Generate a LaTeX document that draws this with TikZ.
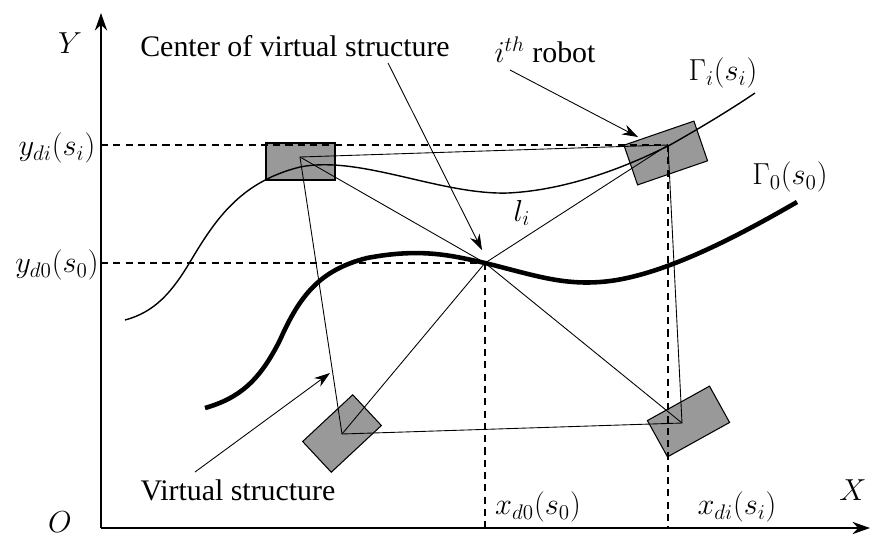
\documentclass[tikz,border=0pt]{standalone}
\usepackage{fontspec}
\setmainfont{Liberation Serif}
\usetikzlibrary{positioning, arrows.meta}

\tikzset{
  robot/.style={draw=black, fill=gray!80, inner sep=0pt, line width=0.6pt},
  vsline/.style={line width=0.5pt},
  guide/.style={line width=0.6pt, dash pattern=on 4pt off 3pt},
  pointer/.style={-{Stealth[length=9pt, width=6pt]}, line width=0.5pt},
  axis/.style={-{Stealth[length=10pt, width=7pt]}, line width=0.8pt},
}

\begin{document}
\begin{tikzpicture}[x=0.02cm, y=-0.02cm, font=\fontsize{17}{20}\selectfont]
  \useasboundingbox (0,0) rectangle (873,539);

  % robots
  \node[robot, minimum width=1.38cm, minimum height=0.74cm] (r1) at (300.5,161.5) {};
  \node[robot, minimum width=1.48cm, minimum height=0.84cm, rotate=19] (ri) at (665.75,153) {};
  \node[robot, minimum width=1.37cm, minimum height=0.84cm, rotate=43] (r3) at (342,433.5) {};
  \node[robot, minimum width=1.42cm, minimum height=0.83cm, rotate=29] (r4) at (688.5,421.5) {};

  % reference points of the virtual structure
  \coordinate (o) at (101,528);
  \coordinate (c) at (485,263);
  \coordinate (p1) at (300,157);
  \coordinate (pi) at (668,145);
  \coordinate (pb) at (342,434);
  \coordinate (pr) at (682,423);

  % trajectories
  \draw[line width=0.8pt] (125,320) .. controls (155,312) and (172,292) .. (190,262)
    .. controls (215,220) and (240,182) .. (300,167)
    .. controls (360,155) and (440,195) .. (508,193)
    .. controls (570,190) and (630,165) .. (670,145)
    .. controls (700,128) and (730,110) .. (755,93);
  \draw[line width=2.6pt] (205,408) .. controls (240,398) and (260,380) .. (280,340)
    .. controls (300,295) and (320,270) .. (367,258)
    .. controls (420,248) and (450,255) .. (485,263)
    .. controls (530,274) and (560,285) .. (600,282)
    .. controls (660,278) and (740,235) .. (797,202);

  % axes
  \draw[axis] (o) -- (870,528);
  \draw[axis] (o) -- (101,13);
  \node[inner sep=0pt] (lo) at (60,522) {$O$};
  \node (lx) at (853,490) {$X$};
  \node (ly) at (70,43) {$Y$};

  % guides
  \draw[guide] (o |- pi) -- (pi);
  \draw[guide] (o |- c) -- (c);
  \draw[guide] (c) -- (c |- o);
  \draw[guide] (pi) -- (pi |- o);

  % virtual structure
  \draw[vsline] (p1) -- (pi) -- (pr) -- (pb) -- cycle;
  \draw[vsline] (p1) -- (c) -- (pr);
  \draw[vsline] (pi) -- (c) -- (pb);

  % labels
  \node (lydi) at (57,148) {$y_{di}(s_i)$};
  \node (lyd0) at (57,265) {$y_{d0}(s_0)$};
  \node (lxd0) at (538,507) {$x_{d0}(s_0)$};
  \node (lxdi) at (737,507) {$x_{di}(s_i)$};
  \node (lgi) at (723,73) {$\Gamma_i(s_i)$};
  \node (lg0) at (790,177) {$\Gamma_0(s_0)$};
  \node (lli) at (522,213) {$l_i$};

  \node (lcenter) at (295,46) {Center of virtual structure};
  \node (lrobot) at (545,50) {$i^{th}$ robot};
  \node (lvs) at (238,490) {Virtual structure};

  \coordinate (a1) at (388,63);
  \coordinate (a2) at (510,70);
  \coordinate (a3) at (195,472);
  \draw[pointer] (a1) -- (482,250);
  \draw[pointer] (a2) -- (638,137);
  \draw[pointer] (a3) -- (330,373);
\end{tikzpicture}
\end{document}
